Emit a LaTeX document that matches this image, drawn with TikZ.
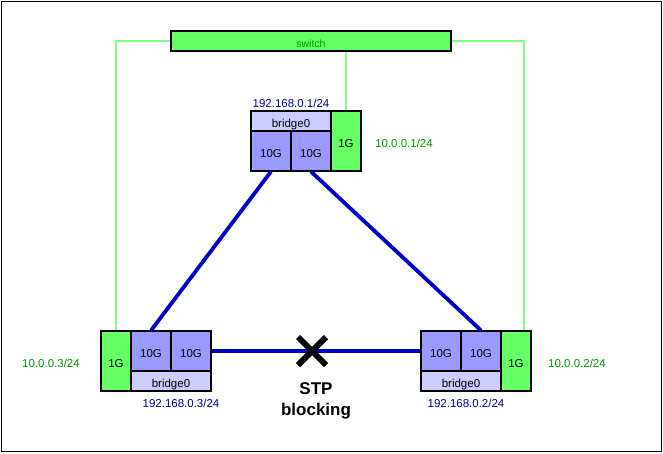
\documentclass[tikz,border=0pt]{standalone}
\usepackage{fontspec}
\setmainfont{Liberation Sans}
\definecolor{gfill}{HTML}{66FF66}
\definecolor{gline}{HTML}{80FF80}
\definecolor{bfill}{HTML}{CCCCFF}
\definecolor{tenfill}{HTML}{9999FF}
\definecolor{gtext}{HTML}{009900}
\definecolor{btext}{HTML}{000099}
\definecolor{bline}{HTML}{0000CC}
\begin{document}
\begin{tikzpicture}[x=1pt,y=-1pt,
  cell/.style={draw=black,line width=1.1pt,inner sep=0pt,text height=13pt,text depth=0pt,font=\fontsize{11.5}{13}\selectfont},
  br/.style={cell,fill=bfill,minimum width=80pt,minimum height=20pt},
  ten/.style={cell,fill=tenfill,minimum width=40pt,minimum height=40pt},
  one/.style={cell,fill=gfill,minimum width=30pt,minimum height=60pt},
  glab/.style={text=gtext,font=\fontsize{11.5}{13}\selectfont,inner sep=0pt},
  blab/.style={text=btext,font=\fontsize{11.5}{13}\selectfont,inner sep=0pt},
  gwire/.style={draw=gline,line width=2pt},
  bwire/.style={draw=bline,line width=3.8pt}]
\useasboundingbox (0,0) rectangle (663,453);
\draw[black,line width=1pt] (1.5,1.5) rectangle (661,451);
% switch
\node[cell,fill=gfill,minimum width=280pt,minimum height=20pt,text=gtext,font=\fontsize{10.5}{12}\selectfont,text height=12pt] (sw) at (311,41) {switch};
% top node
\node[br] (tbr) at (291,121) {bridge0};
\node[ten] (ta) at (271,151) {10G};
\node[ten] (tb) at (311,151) {10G};
\node[one] (t1) at (346,141) {1G};
% left node
\node[one] (l1) at (116,361) {1G};
\node[ten] (la) at (151,351) {10G};
\node[ten] (lb) at (191,351) {10G};
\node[br] (lbr) at (171,381) {bridge0};
% right node
\node[ten] (ra) at (441,351) {10G};
\node[ten] (rb) at (481,351) {10G};
\node[br] (rbr) at (461,381) {bridge0};
\node[one] (r1) at (516,361) {1G};
% green wires
\draw[gwire] (sw.west) -| (l1.north);
\draw[gwire] (sw.east) -| ([xshift=8pt]r1.north);
\draw[gwire] (t1.north |- sw.south) -- (t1.north);
% blue wires
\draw[bwire] (ta.south) -- (la.north);
\draw[bwire] (tb.south) -- (rb.north);
\draw[bwire] (lb.east) -- (ra.west);
% labels
\node[blab] (tip) at (291,103) {192.168.0.1/24};
\node[glab] (tg) at (404,143) {10.0.0.1/24};
\node[glab] (lg) at (51,363) {10.0.0.3/24};
\node[blab] (lip) at (181,403) {192.168.0.3/24};
\node[glab] (rg) at (577,363) {10.0.0.2/24};
\node[blab] (rip) at (466,403) {192.168.0.2/24};
% STP blocking
\coordinate (xm) at (312,351);
\draw[black,line width=6pt] ([shift={(-14,-14)}]xm) -- ([shift={(14,14)}]xm);
\draw[black,line width=6pt] ([shift={(-14,14)}]xm) -- ([shift={(14,-14)}]xm);
\node[font=\bfseries\fontsize{17}{21.5}\selectfont,align=center,inner sep=0pt] (stp) at (316,401) {STP\\blocking};
\end{tikzpicture}
\end{document}
